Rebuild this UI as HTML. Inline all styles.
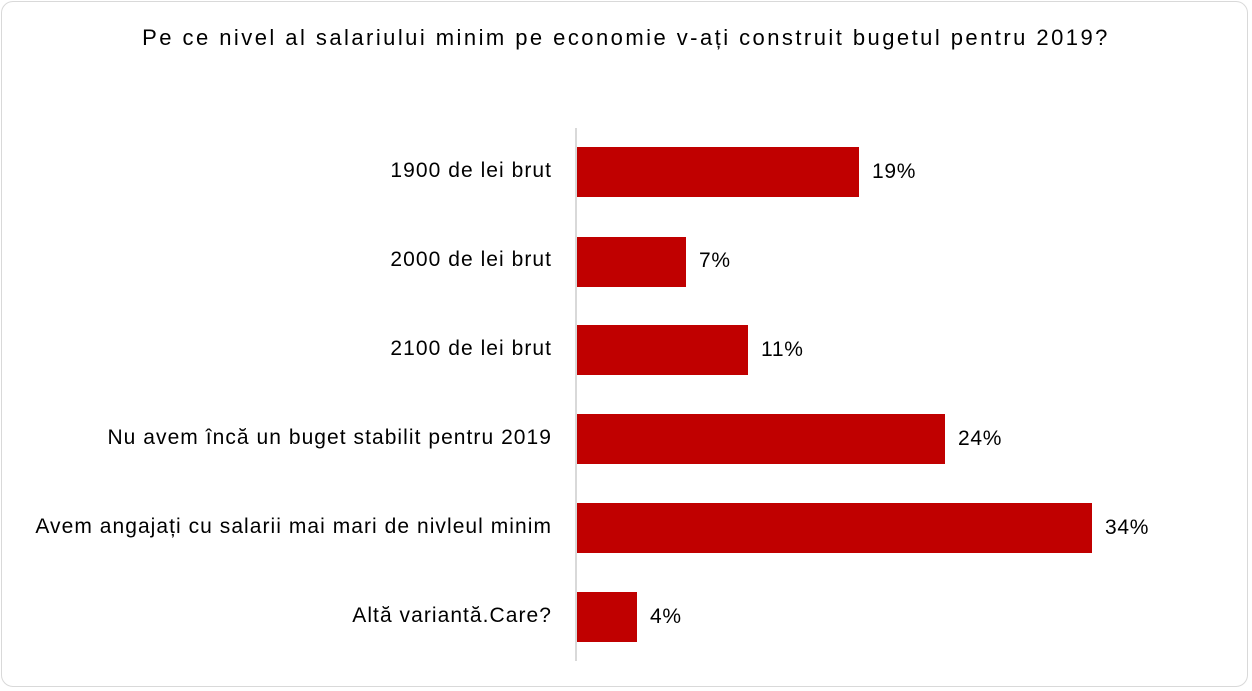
<!DOCTYPE html>
<html><head><meta charset="utf-8"><style>
body{margin:0;background:#fff;}
.wrap{position:relative;width:1252px;height:691px;font-family:"Liberation Sans",sans-serif;color:#000;}
.frame{position:absolute;left:1px;top:1px;width:1247px;height:686px;border:1px solid #d9d9d9;border-radius:12px;box-sizing:border-box;}
.title{position:absolute;left:0;width:1252px;top:25px;text-align:center;font-size:22px;letter-spacing:2.45px;line-height:26px;}
.axis{position:absolute;left:575px;top:128px;width:2px;height:533px;background:#d9d9d9;}
.bar{position:absolute;left:577px;height:50px;background:#c00000;}
.lab{position:absolute;right:700px;font-size:21px;white-space:nowrap;line-height:24px;letter-spacing:1.05px;}
.val{position:absolute;font-size:21px;line-height:24px;letter-spacing:0.7px;}
</style></head><body><div class="wrap">
<div class="frame"></div>
<div class="title">Pe ce nivel al salariului minim pe economie v-ați construit bugetul pentru 2019?</div>
<div class="axis"></div>

<div class="bar" style="top:147px;width:282px"></div>
<div class="lab" style="top:159px">1900 de lei brut</div>
<div class="val" style="top:160px;left:872px">19%</div>

<div class="bar" style="top:237px;width:109px"></div>
<div class="lab" style="top:248px">2000 de lei brut</div>
<div class="val" style="top:249px;left:699px">7%</div>

<div class="bar" style="top:325px;width:171px"></div>
<div class="lab" style="top:337px">2100 de lei brut</div>
<div class="val" style="top:338px;left:761px">11%</div>

<div class="bar" style="top:414px;width:368px"></div>
<div class="lab" style="top:426px">Nu avem încă un buget stabilit pentru 2019</div>
<div class="val" style="top:427px;left:958px">24%</div>

<div class="bar" style="top:503px;width:515px"></div>
<div class="lab" style="top:515px">Avem angajați cu salarii mai mari de nivleul minim</div>
<div class="val" style="top:516px;left:1105px">34%</div>

<div class="bar" style="top:592px;width:60px"></div>
<div class="lab" style="top:604px">Altă variantă.Care?</div>
<div class="val" style="top:605px;left:650px">4%</div>
</div></body></html>
